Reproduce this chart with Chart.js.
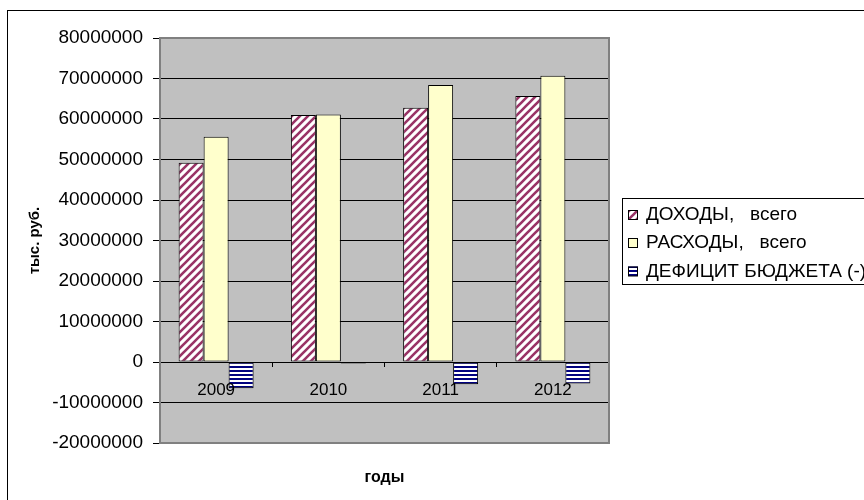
<!DOCTYPE html>
<html><head><meta charset="utf-8">
<script src="https://cdn.jsdelivr.net/npm/chart.js@4.4.1/dist/chart.umd.min.js"></script>
<style>
html,body{margin:0;padding:0;background:#fff;overflow:hidden;width:864px;height:500px;}
#frame{position:absolute;left:7px;top:10px;width:1000px;height:1000px;border:1px solid #000;box-sizing:border-box;}
#c{position:absolute;left:0;top:0;}
</style></head><body>
<div id="frame"></div>
<canvas id="c" width="864" height="500"></canvas>
<script>
const years = ['2009', '2010', '2011', '2012'];
const income = [49200000, 61000000, 62800000, 65700000];
const expenses = [55600000, 61100000, 68400000, 70700000];
const deficit = [-6500000, -400000, -5500000, -5300000];
const seriesNames = ['ДОХОДЫ,   всего', 'РАСХОДЫ,   всего', 'ДЕФИЦИТ БЮДЖЕТА (-)'];
const yTitle = 'тыс. руб.';
const xTitle = 'годы';

Chart.defaults.font.family = '"Liberation Sans", Arial, sans-serif';
Chart.defaults.color = '#000';

function diagPattern() {
  const c = document.createElement('canvas'); c.width = 8; c.height = 8;
  const g = c.getContext('2d');
  g.fillStyle = '#fff'; g.fillRect(0, 0, 8, 8);
  g.strokeStyle = '#993366'; g.lineWidth = 2.6;
  g.beginPath();
  g.moveTo(-2, 10); g.lineTo(10, -2);
  g.moveTo(-6, 6); g.lineTo(6, -6);
  g.moveTo(2, 14); g.lineTo(14, 2);
  g.stroke();
  return g.createPattern(c, 'repeat');
}
function horizPattern() {
  const c = document.createElement('canvas'); c.width = 4; c.height = 4;
  const g = c.getContext('2d');
  g.fillStyle = '#fff'; g.fillRect(0, 0, 4, 4);
  g.fillStyle = '#000080'; g.fillRect(0, 2, 4, 2);
  return g.createPattern(c, 'repeat');
}

const plotBg = {
  id: 'plotBg',
  beforeDraw(chart) {
    const {ctx, chartArea: a} = chart;
    ctx.save(); ctx.fillStyle = '#C0C0C0';
    ctx.fillRect(a.left, a.top, a.right - a.left, a.bottom - a.top);
    ctx.restore();
  },
  afterDraw(chart) {
    const {ctx, chartArea: a} = chart;
    ctx.save(); ctx.strokeStyle = '#808080'; ctx.lineWidth = 2;
    ctx.strokeRect(a.left, a.top, a.right - a.left, a.bottom - a.top);
    ctx.restore();
  }
};
const boxLegend = {
  id: 'boxLegend',
  afterDraw(chart) {
    const ctx = chart.ctx; ctx.save();
    ctx.fillStyle = '#fff'; ctx.fillRect(622.5, 198.5, 400, 86);
    ctx.strokeStyle = '#000'; ctx.lineWidth = 1; ctx.strokeRect(622.5, 198.5, 400, 86);
    const ys = [215, 243, 271.5];
    chart.data.datasets.forEach((ds, i) => {
      ctx.fillStyle = ds.backgroundColor; ctx.fillRect(628, ys[i] - 5, 10, 10);
      ctx.strokeStyle = '#000'; ctx.strokeRect(628.5, ys[i] - 4.5, 9, 9);
      ctx.fillStyle = '#000'; ctx.font = '19px "Liberation Sans"';
      ctx.textBaseline = 'middle'; ctx.textAlign = 'left';
      ctx.fillText(ds.label, 646, ys[i]);
    });
    ctx.restore();
  }
};

new Chart(document.getElementById('c'), {
  type: 'bar',
  data: {
    labels: years,
    datasets: [
      {label: seriesNames[0], data: income, backgroundColor: diagPattern(), borderColor: '#000', borderWidth: 1, borderSkipped: false},
      {label: seriesNames[1], data: expenses, backgroundColor: '#FFFFCC', borderColor: '#000', borderWidth: 1, borderSkipped: false},
      {label: seriesNames[2], data: deficit, backgroundColor: horizPattern(), borderColor: '#000', borderWidth: 1, borderSkipped: false}
    ]
  },
  options: {
    responsive: false, animation: false, devicePixelRatio: 1,
    categoryPercentage: 0.668, barPercentage: 1,
    layout: {padding: {left: 0, top: 38, right: 255, bottom: 0}},
    scales: {
      x: {
        position: {y: 0}, offset: true,
        grid: {display: true, drawOnChartArea: false, offset: true, tickLength: 4, color: '#000'},
        border: {color: '#000', width: 1, z: 1},
        ticks: {font: {size: 17}, color: '#000', padding: 14, z: 1}
      },
      x2: {
        axis: 'x', type: 'category', position: 'bottom', labels: years,
        grid: {display: false, drawTicks: false},
        border: {display: false},
        ticks: {display: false},
        title: {display: true, text: xTitle, font: {size: 16, weight: 'bold'}, color: '#000', padding: {top: 0, bottom: 12.4}},
        afterFit(s) { s.height = 57; }
      },
      y: {
        min: -20000000, max: 80000000,
        ticks: {stepSize: 10000000, font: {size: 19}, color: '#000', padding: 10, callback: v => String(v)},
        grid: {color: '#000', tickLength: 7},
        border: {display: false},
        title: {display: true, text: yTitle, font: {size: 15, weight: 'bold'}, color: '#000', padding: {top: 26, bottom: 0}},
        afterFit(s) { s.width = 160; }
      }
    },
    plugins: {
      legend: {display: false},
      tooltip: {enabled: false}
    }
  },
  plugins: [plotBg, boxLegend]
});
</script>
</body></html>
